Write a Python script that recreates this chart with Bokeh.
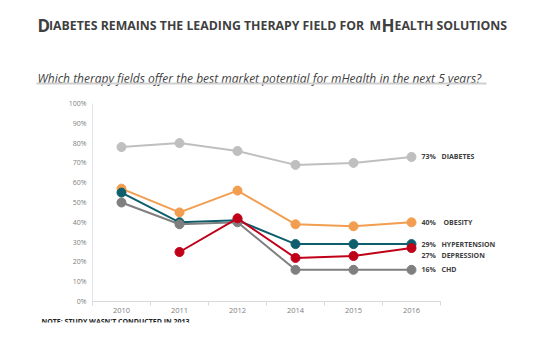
from bokeh.plotting import figure
from bokeh.models import (Range1d, FixedTicker, PrintfTickFormatter, ColumnDataSource)
from bokeh.core.properties import value
from bokeh.embed import file_html
from bokeh.resources import INLINE

# ---------------- data ----------------
years = ["2010", "2011", "2012", "2014", "2015", "2016"]
diabetes = [78, 80, 76, 69, 70, 73]
obesity = [57, 45, 56, 39, 38, 40]
hypertension = [55, 40, 41, 29, 29, 29]
chd = [50, 39, 40, 16, 16, 16]
depression = [float("nan"), 25, 42, 22, 23, 27]
y_ticks = [0, 10, 20, 30, 40, 50, 60, 70, 80, 90, 100]

series_names = ["DIABETES", "OBESITY", "HYPERTENSION", "CHD", "DEPRESSION"]
series_values = [diabetes, obesity, hypertension, chd, depression]
series_colors = ["#bfbfbf", "#f29d4f", "#0e5f6e", "#7f7f7f", "#c00018"]

FONT = "Open Sans"
W, H = 549, 348
FRAME_LEFT, FRAME_BOTTOM = 34, 322   # frame edges (axes are drawn inside it, at x=0 / y=0)
AXIS_X, AXIS_Y = 92, 301             # page position of the y axis and of the x axis
PX_X = 58                            # pixels per year slot
PX_Y = 1.98                          # pixels per percentage point

def dx(px):   # page pixel -> data x (used for placing header / note texts)
    return (px - AXIS_X) / PX_X

def dy(py):   # page pixel -> data y
    return (AXIS_Y - py) / PX_Y

p = figure(width=W, height=H, x_range=Range1d(dx(FRAME_LEFT), dx(W)),
           y_range=Range1d(dy(FRAME_BOTTOM), dy(0)),
           toolbar_location=None, output_backend="svg",
           min_border_top=0, min_border_right=0,
           min_border_left=FRAME_LEFT, min_border_bottom=H - FRAME_BOTTOM,
           outline_line_color=None, background_fill_color="white")
p.grid.visible = False

def txt(x, y, s, size, style="normal", color="#3f3f3f", baseline="alphabetic", x_offset=0):
    p.text(x=[x], y=[y], text=[s], text_font=value(FONT), text_font_style=style,
           text_font_size=size, text_color=color, text_baseline=baseline,
           text_align="left", x_offset=x_offset)

# ---------------- header ----------------
BIG, SMALL = "17px", "12.3px"
title_parts = [("D", 37, BIG), ("IABETES REMAINS THE LEADING THERAPY FIELD FOR", 48.5, SMALL),
               ("M", 369, SMALL), ("H", 381, BIG), ("EALTH SOLUTIONS", 394, SMALL)]
for s, x, fs in title_parts:
    txt(dx(x), dy(25), s, fs, style="bold")

txt(dx(37), dy(78), "Which therapy fields offer the best market potential for mHealth in the next 5 years?",
    "12px", style="italic")
p.segment(x0=[dx(36)], y0=[dy(83)], x1=[dx(486)], y1=[dy(83)], line_color="#cfcfcf", line_width=2)

# ---------------- axes ----------------
xs = [i + 0.5 for i in range(len(years))]
p.xaxis.fixed_location = 0
p.xaxis.bounds = (0, len(years))
p.xaxis.ticker = FixedTicker(ticks=xs, minor_ticks=list(range(len(years) + 1)))
p.xaxis.major_label_overrides = {x: y for x, y in zip(xs, years)}
p.xaxis.axis_line_color = "#d9d9d9"
p.xaxis.major_tick_line_color = None
p.xaxis.major_tick_out = 0
p.xaxis.major_tick_in = 0
p.xaxis.minor_tick_line_color = "#d9d9d9"
p.xaxis.minor_tick_out = 4
p.xaxis.minor_tick_in = 0
p.xaxis.major_label_standoff = 2
p.xaxis.major_label_text_font = FONT
p.xaxis.major_label_text_font_size = "7.5px"
p.xaxis.major_label_text_color = "#808080"

p.yaxis.fixed_location = 0
p.yaxis.bounds = (0, 100)
p.yaxis.ticker = FixedTicker(ticks=y_ticks, minor_ticks=[])
p.yaxis.formatter = PrintfTickFormatter(format="%d%%")
p.yaxis.axis_line_color = "#e6e6e6"
p.yaxis.major_tick_line_color = None
p.yaxis.major_tick_out = 0
p.yaxis.major_tick_in = 0
p.yaxis.major_label_standoff = 6
p.yaxis.major_label_text_font = FONT
p.yaxis.major_label_text_font_size = "7px"
p.yaxis.major_label_text_color = "#808080"

# ---------------- series ----------------
for name, vals, col in zip(series_names, series_values, series_colors):
    src = ColumnDataSource(dict(x=xs, y=vals))
    p.line("x", "y", source=src, line_color=col, line_width=2)
    p.scatter("x", "y", source=src, size=9, fill_color=col, line_color=col)

# end labels (depression nudged down so it does not collide with hypertension)
label_y_shift = {"DEPRESSION": -4}
name_x_shift = {"OBESITY": 2}
for name, vals in zip(series_names, series_values):
    yv = vals[-1] + label_y_shift.get(name, 0)
    txt(xs[-1], yv, f"{int(vals[-1])}%", "7px", style="bold", color="#404040",
        baseline="middle", x_offset=10)
    txt(xs[-1], yv, name, "7px", style="bold", color="#404040",
        baseline="middle", x_offset=30 + name_x_shift.get(name, 0))

# footnote below the x axis
txt(dx(41), dy(320.5), "NOTE: STUDY WASN'T CONDUCTED IN 2013", "7px", style="bold",
    color="#202020", baseline="alphabetic")

open("out.html", "w").write(file_html(p, INLINE))
